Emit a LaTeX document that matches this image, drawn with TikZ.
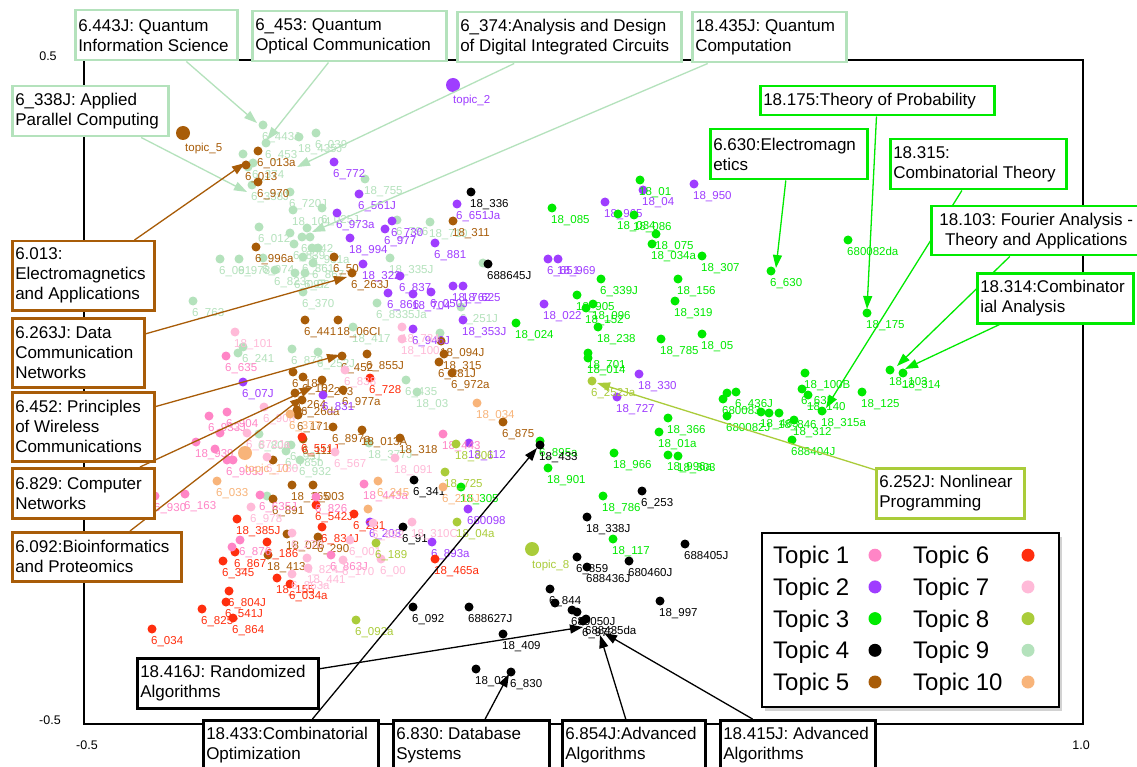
\documentclass[tikz,border=0pt]{standalone}
\usepackage{fontspec}
\setmainfont{Liberation Sans}
\usetikzlibrary{arrows.meta,shadows}
\frenchspacing
\definecolor{c1}{HTML}{FF85C6}
\definecolor{c2}{HTML}{9F3DFF}
\definecolor{c3}{HTML}{00EA00}
\definecolor{c4}{HTML}{000000}
\definecolor{c5}{HTML}{A85C08}
\definecolor{c6}{HTML}{FF2E0E}
\definecolor{c7}{HTML}{FFBAD8}
\definecolor{c8}{HTML}{AACC3A}
\definecolor{c9}{HTML}{B4E2BC}
\definecolor{c10}{HTML}{F8B47A}
\pgfdeclarelayer{pts}\pgfdeclarelayer{arrl}\pgfsetlayers{pts,arrl,main}
\newcommand\cbox[7]{\node[callout,draw=#6,text width=#4pt,minimum height=#5pt] (#1) at (#2,#3) {#7};}
\begin{document}
\begin{tikzpicture}[x=1pt,y=-1pt,
  dot/.style={circle,inner sep=0pt,minimum size=9pt,draw=none},
  bigdot/.style={circle,inner sep=0pt,minimum size=14pt,draw=none},
  lbl/.style={font=\fontsize{11.5}{11.5}\selectfont,inner sep=0pt,anchor=base west},
  callout/.style={line width=2.5pt,fill=white,font=\fontsize{17}{20}\selectfont\frenchspacing,align=flush left,inner xsep=3pt,inner ysep=2pt,anchor=north west},
  arr/.style={line width=1.3pt,-{Triangle[length=13pt,width=9pt]}},
  legt/.style={font=\fontsize{24}{24}\selectfont,inner sep=0pt,anchor=base west},
  axl/.style={font=\fontsize{12.5}{13}\selectfont,inner sep=0pt}]
\useasboundingbox (0,0) rectangle (1137,767);
\begin{pgfonlayer}{pts}
\fill[white] (0,0) rectangle (1137,767);
\draw[line width=2.5pt] (84,60) rectangle (1083,724);
\node[axl] (ax1) at (48,56) {0.5};
\node[axl] (ax2) at (50,720) {-0.5};
\node[axl] (ax3) at (87,745) {-0.5};
\node[axl] (ax4) at (1081,745) {1.0};
\foreach \px/\py/\pc/\pl [count=\i] in {
263/125/c9/6\_443J,266/143/c9/6\_453,243/154/c9/{},253/163/c9/6\_374,252/185/c9/6\_338J,290/192/c9/6\_720J,
299/137/c9/18\_435J,316/133/c9/6\_039,365/179/c9/18\_755,293/210/c9/18\_104,322/208/c9/6\_025J,259/227/c9/6\_012,
290/233/c9/{},302/237/c9/6\_842,307/228/c9/{},294/244/c9/6\_839,310/237/c9/{},312/248/c9/6\_931a,318/248/c9/{},
313/263/c9/6\_867,303/257/c9/6\_861,295/273/c9/6\_097,305/273/c9/6\_02,303/292/c9/6\_370,220/259/c9/6\_091,
239/259/c9/6\_978,263/258/c9/6\_974,275/270/c9/6\_823,193/301/c9/6\_763,377/303/c9/6\_8335Ja,353/327/c9/18\_417,
430/222/c9/18\_710,390/258/c9/18\_335J,397/220/c9/6\_796,483/263/c9/{},461/307/c9/6\_251J,440/333/c9/{},
238/353/c9/{},243/347/c9/6\_241,292/349/c9/6\_873,318/352/c9/6\_252J,406/380/c9/6\_435,417/392/c9/18\_03,
286/451/c9/6\_785b,267/496/c9/{},259/434/c9/6\_806,369/443/c9/18\_377J,291/445/c9/6\_931,300/460/c9/6\_932,248/167/c9/{},
258/151/c5/6\_013a,246/165/c5/6\_013,258/182/c5/6\_970,256/247/c5/6\_996a,334/257/c5/6\_50,352/273/c5/6\_263J,
305/320/c5/6\_441,338/320/c5/18\_06CI,453/221/c5/18\_311,342/356/c5/6\_452,367/354/c5/6\_855J,441/341/c5/18\_094J,
444/354/c5/18\_315,439/362/c5/6\_281J,452/373/c5/6\_972a,503/422/c5/6\_875,293/372/c5/6\_184,303/377/c5/6\_102,
322/380/c5/6\_263,295/393/c5/6\_264,302/400/c5/6\_26da,297/410/c5/{},343/390/c5/6\_977a,298/415/c5/6\_171,
333/427/c5/6\_897a,362/430/c5/18\_013A,400/438/c5/18\_318,303/439/c5/6\_111,273/460/c5/{},292/485/c5/18\_165,
313/485/c5/6\_003,273/499/c5/6\_891,287/534/c5/18\_026,318/537/c5/6\_290,268/555/c5/18\_413,
334/162/c2/6\_772,359/194/c2/6\_561J,337/213/c2/6\_973a,392/221/c2/6\_730,385/229/c2/6\_977,350/238/c2/18\_994,
435/243/c2/6\_881,457/204/c2/6\_651Ja,363/264/c2/18\_322,400/276/c2/6\_837,388/293/c2/6\_866,413/294/c2/18\_704,
431/292/c2/6\_050J,453/286/c2/18\_762,463/286/c2/18\_625,463/320/c2/18\_353J,413/329/c2/6\_946J,548/259/c2/6\_651,
558/259/c2/18\_969,544/304/c2/18\_022,605/202/c2/18\_965,643/190/c2/18\_04,694/184/c2/18\_950,639/374/c2/18\_330,
617/397/c2/18\_727,469/443/c2/18\_112,243/382/c2/6\_07J,323/395/c2/6\_831,468/509/c2/680098,432/542/c2/6\_893a,370/522/c2/6\_203,
552/208/c3/18\_085,640/180/c3/18\_01,618/214/c3/18\_034,634/215/c3/18\_086,656/234/c3/18\_075,652/244/c3/18\_034a,
702/256/c3/18\_307,601/279/c3/6\_339J,678/279/c3/18\_156,675/301/c3/18\_319,577/295/c3/18\_905,586/308/c3/18\_152,
593/304/c3/18\_096,598/327/c3/18\_238,661/339/c3/18\_785,702/334/c3/18\_05,588/353/c3/18\_701,588/358/c3/18\_014,
516/323/c3/18\_024,668/418/c3/18\_366,659/432/c3/18\_01a,614/453/c3/18\_966,668/455/c3/18\_996a,678/456/c3/18\_303,
540/441/c3/6\_895a,548/468/c3/18\_901,603/496/c3/18\_786,613/539/c3/18\_117,461/487/c3/18\_305,771/271/c3/6\_630,
867/313/c3/18\_175,848/240/c3/680082da,805/373/c3/18\_100B,802/389/c3/6\_635,808/395/c3/18\_140,822/411/c3/18\_315a,
862/392/c3/18\_125,890/370/c3/18\_103,903/373/c3/18\_314,794/420/c3/18\_312,779/413/c3/18\_846,769/413/c3/{},
761/412/c3/18\_463,792/440/c3/688404J,736/392/c3/6\_436J,727/393/c3/{},723/399/c3/680083,727/416/c3/680082J,
471/192/c4/18\_336,488/264/c4/688645J,540/445/c4/18\_433,414/480/c4/6\_341,403/527/c4/6\_91,413/607/c4/6\_092,
469/607/c4/688627J,503/634/c4/18\_409,476/669/c4/18\_02,511/672/c4/6\_830,642/491/c4/6\_253,587/517/c4/18\_338J,
685/544/c4/688405J,629/561/c4/680460J,577/557/c4/6\_859,587/567/c4/688436J,550/589/c4/6\_844,555/603/c4/{},
572/610/c4/680050J,577/612/c4/{},586/619/c4/688435da,583/621/c4/6\_972,660/601/c4/18\_997,
370/378/c6/6\_728,237/519/c6/18\_385J,316/505/c6/6\_542J,322/527/c6/6\_834J,354/514/c6/6\_231,267/542/c6/6\_186,
223/561/c6/6\_345,235/552/c6/6\_867,229/591/c6/6\_804J,226/602/c6/6\_541J,202/609/c6/6\_825,233/618/c6/6\_864,
152/629/c6/6\_034,277/578/c6/18\_155,290/584/c6/6\_034a,435/559/c6/18\_465a,302/437/c6/6\_551J,
226/356/c1/6\_635,209/416/c1/6\_933J,227/412/c1/6\_904,220/433/c1/{},196/442/c1/18\_939,215/449/c1/{},
227/460/c1/6\_905J,233/460/c1/{},185/494/c1/6\_163,155/496/c1/6\_930,260/495/c1/6\_635J,240/540/c1/6\_876,
232/547/c1/{},316/497/c1/6\_826,364/484/c1/18\_443a,443/434/c1/18\_443,331/555/c1/6\_863J,
235/332/c7/18\_101,402/327/c7/18\_784,402/339/c7/18\_100,345/370/c7/6\_838,395/458/c7/18\_091,412/522/c7/18\_310C,
381/559/c7/6\_00,373/523/c7/6\_892,292/533/c7/6\_270,307/558/c7/6\_824,308/568/c7/18\_441,292/574/c7/6\_863a,
343/560/c7/6\_170,350/540/c7/6\_001,251/507/c7/6\_978,247/433/c7/6\_872Ja,267/457/c7/6\_780,335/452/c7/6\_567,264/407/c7/6\_908,
592/381/c8/6\_252Ja,456/444/c8/18\_306,445/472/c8/18\_725,457/522/c8/18\_04a,376/543/c8/6\_189,356/620/c8/6\_092a,
477/403/c10/18\_034,217/481/c10/6\_033,378/481/c10/6\_245,443/487/c10/6\_215J,368/509/c10/{},290/414/c10/6\_377}
{\node[dot,fill=\pc] (d\i) at (\px,\py) {};
 \node[lbl,text=\pc] (l\i) at (\px-1,\py+15.5) {\pl};}
\node[bigdot,fill=c5] (tp5) at (183,133) {};
\node[lbl,text=c5] (tl5) at (185,152) {topic\_5};
\node[bigdot,fill=c2] (tp2) at (453,85) {};
\node[lbl,text=c2] (tl2) at (453,104) {topic\_2};
\node[bigdot,fill=c8] (tp8) at (532,549) {};
\node[lbl,text=c8] (tl8) at (532,568) {topic\_8};
\node[bigdot,fill=c10] (tp10) at (245,453) {};
\node[lbl,text=c10] (tl10) at (245,472) {topic\_10};
\end{pgfonlayer}
% callout boxes
\cbox{b443}{74}{9}{156}{50}{c9}{6.443J: Quantum\\Information Science}
\cbox{b453}{251}{10}{188}{50}{c9}{6\_453: Quantum\\Optical Communication}
\cbox{b374}{456}{11}{218}{50}{c9}{6\_374:Analysis and Design\\of Digital Integrated Circuits}
\cbox{b435}{691}{11}{148}{50}{c9}{18.435J: Quantum\\Computation}
\cbox{b338}{11}{85}{150}{50}{c9}{6\_338J: Applied\\Parallel Computing}
\cbox{b013}{11}{240}{136}{69}{c5}{6.013:\\Electromagnetics\\and Applications}
\cbox{b263}{11}{317}{126}{69}{c5}{6.263J: Data\\Communication\\Networks}
\cbox{b452}{11}{391}{136}{69}{c5}{6.452: Principles\\of Wireless\\Communications}
\cbox{b829}{11}{467}{136}{50}{c5}{6.829: Computer\\Networks}
\cbox{b092}{11}{531}{163}{49}{c5}{6.092:Bioinformatics\\and Proteomics}
\cbox{b175}{759}{85}{228}{29}{c3}{18.175:Theory of Probability}
\cbox{b630}{709}{128}{151}{50}{c3}{6.630:Electromagn\\etics}
\cbox{b315}{889}{138}{170}{50}{c3}{18.315:\\Combinatorial Theory}
\node[callout,draw=c3,align=flush center,text width=204pt,minimum height=49pt] (b103) at (930,205) {18.103: Fourier Analysis -\\Theory and Applications};
\cbox{b314}{976}{272}{150}{50}{c3}{18.314:Combinator\\ial Analysis}
\cbox{b252}{875}{467}{142}{50}{c8}{6.252J: Nonlinear\\Programming}
\cbox{b416}{136}{657}{175}{50}{black}{18.416J: Randomized\\Algorithms}
\cbox{b433}{202}{719}{169}{50}{black}{18.433:Combinatorial\\Optimization}
\cbox{b830}{392}{719}{150}{50}{black}{6.830: Database\\Systems}
\cbox{b854}{561}{719}{137}{50}{black}{6.854J:Advanced\\Algorithms}
\cbox{b415}{719}{719}{149}{50}{black}{18.415J: Advanced\\Algorithms}
% arrow tips
\coordinate (t443) at (257,123); \coordinate (t453) at (267,140);
\coordinate (t374) at (297,167); \coordinate (t435) at (312,232);
\coordinate (t338) at (247,192); \coordinate (t013) at (245,163);
\coordinate (t263) at (347,277); \coordinate (t452) at (340,355);
\coordinate (t829) at (313,387); \coordinate (t092) at (303,397);
\coordinate (t175) at (867,309); \coordinate (t630) at (776,268);
\coordinate (t315) at (826,408); \coordinate (t103) at (897,366);
\coordinate (t314) at (905,369); \coordinate (t252) at (597,383);
\coordinate (t416) at (583,627); \coordinate (t433) at (537,448);
\coordinate (t830) at (509,674); \coordinate (t854) at (600,635);
\coordinate (t415) at (604,633);
\begin{pgfonlayer}{arrl}
\draw[arr,c9] (b443) -- (t443);
\draw[arr,c9] (b453) -- (t453);
\draw[arr,c9] (b374) -- (t374);
\draw[arr,c9] (b435) -- (t435);
\draw[arr,c9] (b338) -- (t338);
\draw[arr,c5] (b013) -- (t013);
\draw[arr,c5] (b263) -- (t263);
\draw[arr,c5] (b452) -- (t452);
\draw[arr,c5] (b829) -- (t829);
\draw[arr,c5] (b092) -- (t092);
\draw[arr,c3] (b175) -- (t175);
\draw[arr,c3] (b630) -- (t630);
\draw[arr,c3] (b315) -- (t315);
\draw[arr,c3] (b103) -- (t103);
\draw[arr,c3] (b314) -- (t314);
\draw[arr,c8] (b252) -- (t252);
\draw[arr,black] (b416) -- (t416);
\draw[arr,black] (b433) -- (t433);
\draw[arr,black] (b830) -- (t830);
\draw[arr,black] (b854) -- (t854);
\draw[arr,black] (b415) -- (t415);
\end{pgfonlayer}
% legend
\node[draw=black,line width=1.6pt,fill=white,drop shadow={shadow xshift=3pt,shadow yshift=-4pt,opacity=0.35},anchor=north west,minimum width=297pt,minimum height=174pt,inner sep=0pt] (leg) at (761,532) {};
\foreach \ln/\lc [count=\k] in {1/c1,2/c2,3/c3,4/c4,5/c5} {
  \node[legt] (lta\k) at (773,532+31.7*\k) {Topic \ln};
  \node[dot,minimum size=13pt,fill=\lc] (lda\k) at (875,523.5+31.7*\k) {};
}
\foreach \ln/\lc [count=\k] in {6/c6,7/c7,8/c8,9/c9,10/c10} {
  \node[legt] (ltb\k) at (913,532+31.7*\k) {Topic \ln};
  \node[dot,minimum size=13pt,fill=\lc] (ldb\k) at (1028,523.5+31.7*\k) {};
}
\end{tikzpicture}
\end{document}
